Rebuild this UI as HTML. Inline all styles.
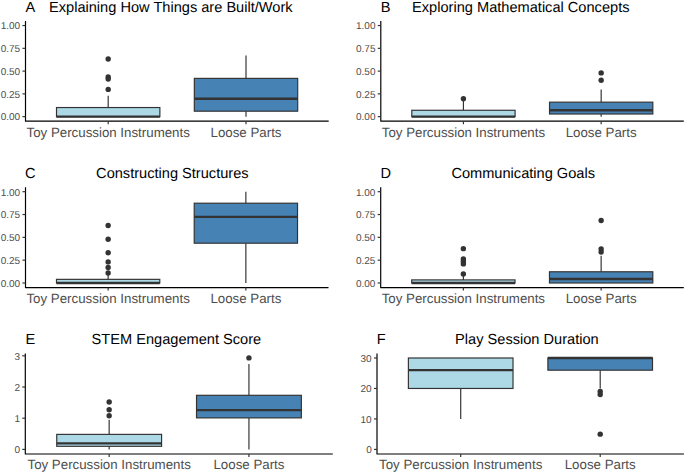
<!DOCTYPE html>
<html><head><meta charset="utf-8"><style>
html,body{margin:0;padding:0;background:#fff;}
svg{display:block;}
text{font-family:"Liberation Sans",sans-serif;text-rendering:geometricPrecision;}
.tt{font-size:14.6px;fill:#000;}
.xt{font-size:13.3px;fill:#4D4D4D;}
.yt{font-size:10.0px;fill:#4D4D4D;}
</style></head><body>
<svg width="685" height="473" viewBox="0 0 685 473">
<rect width="685" height="473" fill="#fff"/>
<line x1="108.19" y1="107.54" x2="108.19" y2="95.79" stroke="#333333" stroke-width="1.18"/>
<line x1="108.19" y1="116.65" x2="108.19" y2="116.65" stroke="#333333" stroke-width="1.18"/>
<rect x="56.51" y="107.54" width="103.36" height="9.11" fill="#ADD8E6" stroke="#333333" stroke-width="1.18"/>
<line x1="56.51" y1="116.65" x2="159.87" y2="116.65" stroke="#333333" stroke-width="2.36"/>
<circle cx="108.19" cy="58.98" r="2.7" fill="#333333"/>
<circle cx="108.19" cy="77.02" r="2.7" fill="#333333"/>
<circle cx="108.19" cy="78.93" r="2.7" fill="#333333"/>
<circle cx="108.19" cy="89.41" r="2.7" fill="#333333"/>
<line x1="246.01" y1="78.39" x2="246.01" y2="55.43" stroke="#333333" stroke-width="1.18"/>
<line x1="246.01" y1="111.18" x2="246.01" y2="116.65" stroke="#333333" stroke-width="1.18"/>
<rect x="194.33" y="78.39" width="103.36" height="32.80" fill="#4682B4" stroke="#333333" stroke-width="1.18"/>
<line x1="194.33" y1="98.70" x2="297.69" y2="98.70" stroke="#333333" stroke-width="2.36"/>
<path d="M25.50 21.00V121.21H328.70" fill="none" stroke="#000" stroke-width="1.18" stroke-linejoin="round"/>
<line x1="22.46" y1="116.65" x2="25.50" y2="116.65" stroke="#333333" stroke-width="1.18"/>
<text x="20.20" y="120.45" text-anchor="end" class="yt">0.00</text>
<line x1="22.46" y1="93.88" x2="25.50" y2="93.88" stroke="#333333" stroke-width="1.18"/>
<text x="20.20" y="97.67" text-anchor="end" class="yt">0.25</text>
<line x1="22.46" y1="71.10" x2="25.50" y2="71.10" stroke="#333333" stroke-width="1.18"/>
<text x="20.20" y="74.90" text-anchor="end" class="yt">0.50</text>
<line x1="22.46" y1="48.33" x2="25.50" y2="48.33" stroke="#333333" stroke-width="1.18"/>
<text x="20.20" y="52.13" text-anchor="end" class="yt">0.75</text>
<line x1="22.46" y1="25.55" x2="25.50" y2="25.55" stroke="#333333" stroke-width="1.18"/>
<text x="20.20" y="29.35" text-anchor="end" class="yt">1.00</text>
<line x1="108.19" y1="121.21" x2="108.19" y2="124.25" stroke="#333333" stroke-width="1.18"/>
<text x="108.19" y="136.71" text-anchor="middle" class="xt">Toy Percussion Instruments</text>
<line x1="246.01" y1="121.21" x2="246.01" y2="124.25" stroke="#333333" stroke-width="1.18"/>
<text x="246.01" y="136.71" text-anchor="middle" class="xt">Loose Parts</text>
<text x="25.50" y="11.60" class="tt">A</text>
<text x="49.00" y="11.60" class="tt">Explaining How Things are Built/Work</text>
<line x1="463.44" y1="110.27" x2="463.44" y2="100.25" stroke="#333333" stroke-width="1.18"/>
<line x1="463.44" y1="116.65" x2="463.44" y2="116.65" stroke="#333333" stroke-width="1.18"/>
<rect x="411.79" y="110.27" width="103.30" height="6.38" fill="#ADD8E6" stroke="#333333" stroke-width="1.18"/>
<line x1="411.79" y1="116.65" x2="515.08" y2="116.65" stroke="#333333" stroke-width="2.36"/>
<circle cx="463.44" cy="98.79" r="2.7" fill="#333333"/>
<line x1="601.16" y1="102.17" x2="601.16" y2="89.59" stroke="#333333" stroke-width="1.18"/>
<line x1="601.16" y1="114.01" x2="601.16" y2="116.65" stroke="#333333" stroke-width="1.18"/>
<rect x="549.52" y="102.17" width="103.30" height="11.84" fill="#4682B4" stroke="#333333" stroke-width="1.18"/>
<line x1="549.52" y1="110.27" x2="652.81" y2="110.27" stroke="#333333" stroke-width="2.36"/>
<circle cx="601.16" cy="72.92" r="2.7" fill="#333333"/>
<circle cx="601.16" cy="80.21" r="2.7" fill="#333333"/>
<path d="M380.80 21.00V121.21H683.80" fill="none" stroke="#000" stroke-width="1.18" stroke-linejoin="round"/>
<line x1="377.76" y1="116.65" x2="380.80" y2="116.65" stroke="#333333" stroke-width="1.18"/>
<text x="375.50" y="120.45" text-anchor="end" class="yt">0.00</text>
<line x1="377.76" y1="93.88" x2="380.80" y2="93.88" stroke="#333333" stroke-width="1.18"/>
<text x="375.50" y="97.67" text-anchor="end" class="yt">0.25</text>
<line x1="377.76" y1="71.10" x2="380.80" y2="71.10" stroke="#333333" stroke-width="1.18"/>
<text x="375.50" y="74.90" text-anchor="end" class="yt">0.50</text>
<line x1="377.76" y1="48.33" x2="380.80" y2="48.33" stroke="#333333" stroke-width="1.18"/>
<text x="375.50" y="52.13" text-anchor="end" class="yt">0.75</text>
<line x1="377.76" y1="25.55" x2="380.80" y2="25.55" stroke="#333333" stroke-width="1.18"/>
<text x="375.50" y="29.35" text-anchor="end" class="yt">1.00</text>
<line x1="463.44" y1="121.21" x2="463.44" y2="124.25" stroke="#333333" stroke-width="1.18"/>
<text x="463.44" y="136.71" text-anchor="middle" class="xt">Toy Percussion Instruments</text>
<line x1="601.16" y1="121.21" x2="601.16" y2="124.25" stroke="#333333" stroke-width="1.18"/>
<text x="601.16" y="136.71" text-anchor="middle" class="xt">Loose Parts</text>
<text x="380.70" y="11.60" class="tt">B</text>
<text x="412.10" y="11.60" class="tt">Exploring Mathematical Concepts</text>
<line x1="108.14" y1="279.35" x2="108.14" y2="273.87" stroke="#333333" stroke-width="1.18"/>
<line x1="108.14" y1="283.00" x2="108.14" y2="283.00" stroke="#333333" stroke-width="1.18"/>
<rect x="56.49" y="279.35" width="103.30" height="3.65" fill="#ADD8E6" stroke="#333333" stroke-width="1.18"/>
<line x1="56.49" y1="283.00" x2="159.78" y2="283.00" stroke="#333333" stroke-width="2.36"/>
<circle cx="108.14" cy="225.48" r="2.7" fill="#333333"/>
<circle cx="108.14" cy="239.18" r="2.7" fill="#333333"/>
<circle cx="108.14" cy="252.78" r="2.7" fill="#333333"/>
<circle cx="108.14" cy="261.91" r="2.7" fill="#333333"/>
<circle cx="108.14" cy="267.57" r="2.7" fill="#333333"/>
<circle cx="108.14" cy="272.96" r="2.7" fill="#333333"/>
<line x1="245.86" y1="203.20" x2="245.86" y2="191.70" stroke="#333333" stroke-width="1.18"/>
<line x1="245.86" y1="243.19" x2="245.86" y2="283.00" stroke="#333333" stroke-width="1.18"/>
<rect x="194.22" y="203.20" width="103.30" height="39.99" fill="#4682B4" stroke="#333333" stroke-width="1.18"/>
<line x1="194.22" y1="216.90" x2="297.51" y2="216.90" stroke="#333333" stroke-width="2.36"/>
<path d="M25.50 187.13V287.56H328.50" fill="none" stroke="#000" stroke-width="1.18" stroke-linejoin="round"/>
<line x1="22.46" y1="283.00" x2="25.50" y2="283.00" stroke="#333333" stroke-width="1.18"/>
<text x="20.20" y="286.80" text-anchor="end" class="yt">0.00</text>
<line x1="22.46" y1="260.18" x2="25.50" y2="260.18" stroke="#333333" stroke-width="1.18"/>
<text x="20.20" y="263.98" text-anchor="end" class="yt">0.25</text>
<line x1="22.46" y1="237.35" x2="25.50" y2="237.35" stroke="#333333" stroke-width="1.18"/>
<text x="20.20" y="241.15" text-anchor="end" class="yt">0.50</text>
<line x1="22.46" y1="214.53" x2="25.50" y2="214.53" stroke="#333333" stroke-width="1.18"/>
<text x="20.20" y="218.33" text-anchor="end" class="yt">0.75</text>
<line x1="22.46" y1="191.70" x2="25.50" y2="191.70" stroke="#333333" stroke-width="1.18"/>
<text x="20.20" y="195.50" text-anchor="end" class="yt">1.00</text>
<line x1="108.14" y1="287.56" x2="108.14" y2="290.61" stroke="#333333" stroke-width="1.18"/>
<text x="108.14" y="303.06" text-anchor="middle" class="xt">Toy Percussion Instruments</text>
<line x1="245.86" y1="287.56" x2="245.86" y2="290.61" stroke="#333333" stroke-width="1.18"/>
<text x="245.86" y="303.06" text-anchor="middle" class="xt">Loose Parts</text>
<text x="25.00" y="177.80" class="tt">C</text>
<text x="96.10" y="177.80" class="tt">Constructing Structures</text>
<line x1="463.36" y1="279.90" x2="463.36" y2="274.78" stroke="#333333" stroke-width="1.18"/>
<line x1="463.36" y1="283.00" x2="463.36" y2="283.00" stroke="#333333" stroke-width="1.18"/>
<rect x="411.70" y="279.90" width="103.33" height="3.10" fill="#ADD8E6" stroke="#333333" stroke-width="1.18"/>
<line x1="411.70" y1="283.00" x2="515.03" y2="283.00" stroke="#333333" stroke-width="2.36"/>
<circle cx="463.36" cy="248.67" r="2.7" fill="#333333"/>
<circle cx="463.36" cy="258.99" r="2.7" fill="#333333"/>
<circle cx="463.36" cy="261.45" r="2.7" fill="#333333"/>
<circle cx="463.36" cy="263.92" r="2.7" fill="#333333"/>
<circle cx="463.36" cy="274.05" r="2.7" fill="#333333"/>
<line x1="601.14" y1="271.77" x2="601.14" y2="255.70" stroke="#333333" stroke-width="1.18"/>
<line x1="601.14" y1="283.00" x2="601.14" y2="283.00" stroke="#333333" stroke-width="1.18"/>
<rect x="549.47" y="271.77" width="103.33" height="11.23" fill="#4682B4" stroke="#333333" stroke-width="1.18"/>
<line x1="549.47" y1="278.98" x2="652.80" y2="278.98" stroke="#333333" stroke-width="2.36"/>
<circle cx="601.14" cy="220.46" r="2.7" fill="#333333"/>
<circle cx="601.14" cy="248.95" r="2.7" fill="#333333"/>
<circle cx="601.14" cy="251.96" r="2.7" fill="#333333"/>
<path d="M380.70 187.13V287.56H683.80" fill="none" stroke="#000" stroke-width="1.18" stroke-linejoin="round"/>
<line x1="377.66" y1="283.00" x2="380.70" y2="283.00" stroke="#333333" stroke-width="1.18"/>
<text x="375.40" y="286.80" text-anchor="end" class="yt">0.00</text>
<line x1="377.66" y1="260.18" x2="380.70" y2="260.18" stroke="#333333" stroke-width="1.18"/>
<text x="375.40" y="263.98" text-anchor="end" class="yt">0.25</text>
<line x1="377.66" y1="237.35" x2="380.70" y2="237.35" stroke="#333333" stroke-width="1.18"/>
<text x="375.40" y="241.15" text-anchor="end" class="yt">0.50</text>
<line x1="377.66" y1="214.53" x2="380.70" y2="214.53" stroke="#333333" stroke-width="1.18"/>
<text x="375.40" y="218.33" text-anchor="end" class="yt">0.75</text>
<line x1="377.66" y1="191.70" x2="380.70" y2="191.70" stroke="#333333" stroke-width="1.18"/>
<text x="375.40" y="195.50" text-anchor="end" class="yt">1.00</text>
<line x1="463.36" y1="287.56" x2="463.36" y2="290.61" stroke="#333333" stroke-width="1.18"/>
<text x="463.36" y="303.06" text-anchor="middle" class="xt">Toy Percussion Instruments</text>
<line x1="601.14" y1="287.56" x2="601.14" y2="290.61" stroke="#333333" stroke-width="1.18"/>
<text x="601.14" y="303.06" text-anchor="middle" class="xt">Loose Parts</text>
<text x="380.60" y="177.80" class="tt">D</text>
<text x="451.40" y="177.80" class="tt">Communicating Goals</text>
<line x1="109.16" y1="434.39" x2="109.16" y2="419.70" stroke="#333333" stroke-width="1.18"/>
<line x1="109.16" y1="446.31" x2="109.16" y2="449.40" stroke="#333333" stroke-width="1.18"/>
<rect x="56.75" y="434.39" width="104.83" height="11.92" fill="#ADD8E6" stroke="#333333" stroke-width="1.18"/>
<line x1="56.75" y1="443.41" x2="161.58" y2="443.41" stroke="#333333" stroke-width="2.36"/>
<circle cx="109.16" cy="402.01" r="2.7" fill="#333333"/>
<circle cx="109.16" cy="409.71" r="2.7" fill="#333333"/>
<circle cx="109.16" cy="415.80" r="2.7" fill="#333333"/>
<line x1="248.94" y1="395.30" x2="248.94" y2="363.91" stroke="#333333" stroke-width="1.18"/>
<line x1="248.94" y1="417.89" x2="248.94" y2="449.40" stroke="#333333" stroke-width="1.18"/>
<rect x="196.52" y="395.30" width="104.83" height="22.59" fill="#4682B4" stroke="#333333" stroke-width="1.18"/>
<line x1="196.52" y1="410.09" x2="301.35" y2="410.09" stroke="#333333" stroke-width="2.36"/>
<circle cx="248.94" cy="357.89" r="2.7" fill="#333333"/>
<path d="M25.30 353.41V453.97H332.80" fill="none" stroke="#000" stroke-width="1.18" stroke-linejoin="round"/>
<line x1="22.26" y1="449.40" x2="25.30" y2="449.40" stroke="#333333" stroke-width="1.18"/>
<text x="20.00" y="453.20" text-anchor="end" class="yt">0</text>
<line x1="22.26" y1="418.20" x2="25.30" y2="418.20" stroke="#333333" stroke-width="1.18"/>
<text x="20.00" y="422.00" text-anchor="end" class="yt">1</text>
<line x1="22.26" y1="387.00" x2="25.30" y2="387.00" stroke="#333333" stroke-width="1.18"/>
<text x="20.00" y="390.80" text-anchor="end" class="yt">2</text>
<line x1="22.26" y1="355.80" x2="25.30" y2="355.80" stroke="#333333" stroke-width="1.18"/>
<text x="20.00" y="359.60" text-anchor="end" class="yt">3</text>
<line x1="109.16" y1="453.97" x2="109.16" y2="457.01" stroke="#333333" stroke-width="1.18"/>
<text x="109.16" y="469.47" text-anchor="middle" class="xt">Toy Percussion Instruments</text>
<line x1="248.94" y1="453.97" x2="248.94" y2="457.01" stroke="#333333" stroke-width="1.18"/>
<text x="248.94" y="469.47" text-anchor="middle" class="xt">Loose Parts</text>
<text x="25.60" y="344.20" class="tt">E</text>
<text x="91.60" y="344.20" class="tt">STEM Engagement Score</text>
<line x1="460.70" y1="357.99" x2="460.70" y2="357.99" stroke="#333333" stroke-width="1.18"/>
<line x1="460.70" y1="388.46" x2="460.70" y2="418.93" stroke="#333333" stroke-width="1.18"/>
<rect x="408.39" y="357.99" width="104.62" height="30.47" fill="#ADD8E6" stroke="#333333" stroke-width="1.18"/>
<line x1="408.39" y1="370.18" x2="513.01" y2="370.18" stroke="#333333" stroke-width="2.36"/>
<line x1="600.20" y1="357.99" x2="600.20" y2="357.99" stroke="#333333" stroke-width="1.18"/>
<line x1="600.20" y1="370.18" x2="600.20" y2="388.46" stroke="#333333" stroke-width="1.18"/>
<rect x="547.89" y="357.99" width="104.62" height="12.19" fill="#4682B4" stroke="#333333" stroke-width="1.18"/>
<line x1="547.89" y1="357.99" x2="652.51" y2="357.99" stroke="#333333" stroke-width="2.36"/>
<circle cx="600.20" cy="391.51" r="2.7" fill="#333333"/>
<circle cx="600.20" cy="394.55" r="2.7" fill="#333333"/>
<circle cx="600.20" cy="434.16" r="2.7" fill="#333333"/>
<path d="M377.00 353.42V453.97H683.90" fill="none" stroke="#000" stroke-width="1.18" stroke-linejoin="round"/>
<line x1="373.96" y1="449.40" x2="377.00" y2="449.40" stroke="#333333" stroke-width="1.18"/>
<text x="371.70" y="453.20" text-anchor="end" class="yt">0</text>
<line x1="373.96" y1="418.93" x2="377.00" y2="418.93" stroke="#333333" stroke-width="1.18"/>
<text x="371.70" y="422.73" text-anchor="end" class="yt">10</text>
<line x1="373.96" y1="388.46" x2="377.00" y2="388.46" stroke="#333333" stroke-width="1.18"/>
<text x="371.70" y="392.26" text-anchor="end" class="yt">20</text>
<line x1="373.96" y1="357.99" x2="377.00" y2="357.99" stroke="#333333" stroke-width="1.18"/>
<text x="371.70" y="361.79" text-anchor="end" class="yt">30</text>
<line x1="460.70" y1="453.97" x2="460.70" y2="457.01" stroke="#333333" stroke-width="1.18"/>
<text x="460.70" y="469.47" text-anchor="middle" class="xt">Toy Percussion Instruments</text>
<line x1="600.20" y1="453.97" x2="600.20" y2="457.01" stroke="#333333" stroke-width="1.18"/>
<text x="600.20" y="469.47" text-anchor="middle" class="xt">Loose Parts</text>
<text x="376.70" y="344.20" class="tt">F</text>
<text x="455.10" y="344.20" class="tt">Play Session Duration</text>
</svg>
</body></html>
